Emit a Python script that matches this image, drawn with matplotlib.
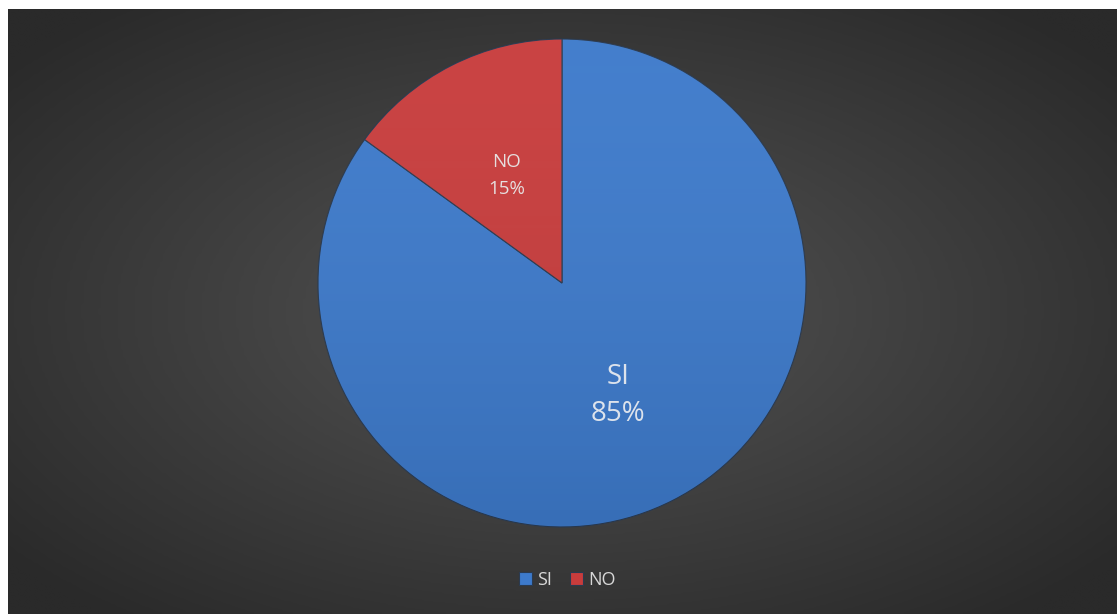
import numpy as np
import matplotlib.pyplot as plt
from matplotlib.colors import LinearSegmentedColormap

labels = ["SI", "NO"]
values = [85, 15]
colors = ["#3D7ACB", "#C83C3C"]

W, H = 1117, 614
fig = plt.figure(figsize=(W / 100, H / 100), dpi=100)
fig.patch.set_facecolor("white")
ax = fig.add_axes([0, 0, 1, 1])
ax.set_xlim(0, W)
ax.set_ylim(0, H)
ax.set_aspect("equal")
ax.axis("off")

# fond sombre avec dégradé radial
x0, x1, y0, y1 = 8, W, 0, H - 9
gx, gy = np.meshgrid(np.linspace(-1, 1, 400), np.linspace(-1, 1, 220))
r = np.clip(np.sqrt(gx**2 + gy**2) / 1.3, 0, 1)
bg_cmap = LinearSegmentedColormap.from_list("bg", ["#545454", "#2a2a2a"])
ax.imshow(r, cmap=bg_cmap, extent=[x0, x1, y0, y1], origin="lower",
          interpolation="bilinear", zorder=0)

cx, cy, rad = 562, H - 283, 244
wedges, _ = ax.pie(values, colors=colors, startangle=90, counterclock=False,
                   center=(cx, cy), radius=rad, frame=True,
                   wedgeprops=dict(edgecolor="#2a3a50", linewidth=0.8))
ax.set_xlim(0, W)
ax.set_ylim(0, H)
ax.axis("off")

# léger dégradé vertical sur chaque part
shade = np.linspace(0, 1, 200).reshape(-1, 1)
for w, c in zip(wedges, colors):
    cm = LinearSegmentedColormap.from_list("s", [(0, 0, 0, 0.10), (1, 1, 1, 0.04)])
    im = ax.imshow(shade, cmap=cm, extent=[cx - rad, cx + rad, cy - rad, cy + rad],
                   origin="lower", interpolation="bilinear", zorder=2, aspect="auto")
    im.set_clip_path(w)

ax.text(618, H - 377, "SI", color="#dde3ec", fontsize=20, ha="center", va="center",
        family="Open Sans", zorder=5)
ax.text(618, H - 414, "85%", color="#dde3ec", fontsize=20, ha="center", va="center",
        family="Open Sans", zorder=5)
ax.text(507, H - 162, "NO", color="#e6dede", fontsize=13.5, ha="center", va="center",
        family="Open Sans", zorder=5)
ax.text(507, H - 189, "15%", color="#e6dede", fontsize=13.5, ha="center", va="center",
        family="Open Sans", zorder=5)

leg = ax.legend(wedges, labels, loc="center", bbox_to_anchor=(567 / W, 1 - 580 / H),
                ncol=2, frameon=False, handlelength=0.75, handleheight=0.75,
                handletextpad=0.25, columnspacing=1.0,
                prop=dict(family="Open Sans", size=13))
for t in leg.get_texts():
    t.set_color("#d8d8d8")

fig.savefig("out.png", dpi=100, facecolor="white")
